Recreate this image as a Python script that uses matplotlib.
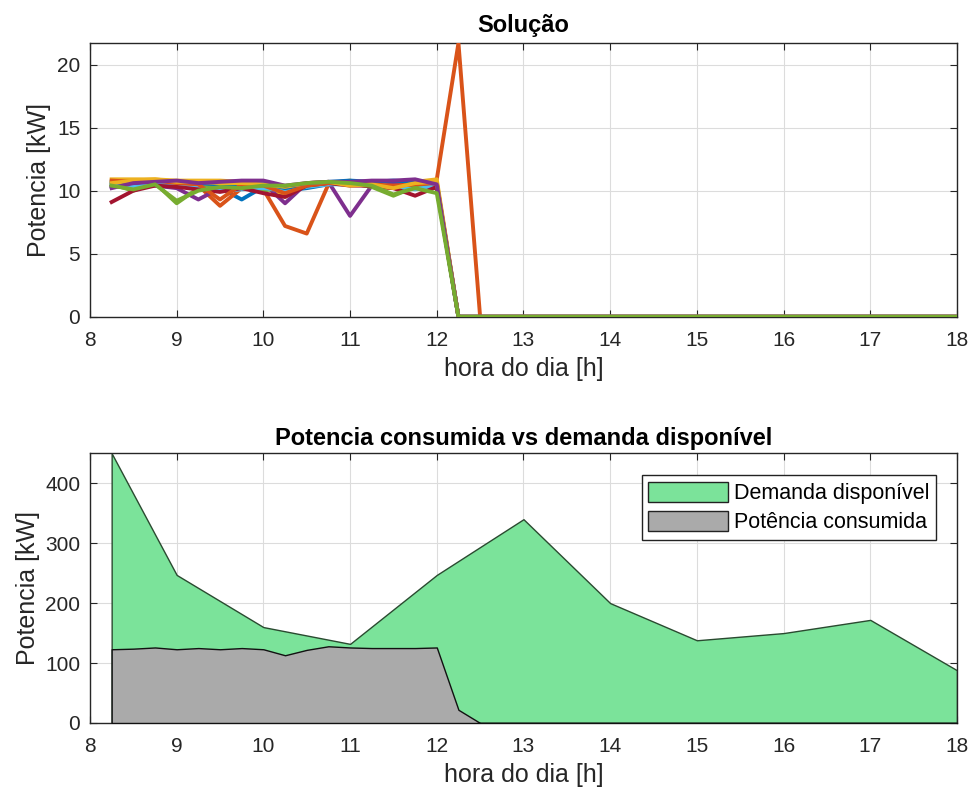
import matplotlib
matplotlib.use("Agg")
import matplotlib.pyplot as plt
from matplotlib.patches import Patch

plt.rcParams['font.family'] = ['Liberation Sans', 'DejaVu Sans']

# ---- data ----
hours = [8.25, 8.5, 8.75, 9.0, 9.25, 9.5, 9.75, 10.0, 10.25, 10.5, 10.75, 11.0,
         11.25, 11.5, 11.75, 12.0, 12.25, 12.5, 12.75, 13.0, 13.25, 13.5, 13.75, 14.0,
         14.25, 14.5, 14.75, 15.0, 15.25, 15.5, 15.75, 16.0, 16.25, 16.5, 16.75, 17.0,
         17.25, 17.5, 17.75, 18.0]

s01 = [10.4, 10.2, 10.6, 10.5, 10.3, 10.2, 9.3, 10.3, 10.0, 10.2, 10.5, 10.6, 10.4, 10.3, 10.5, 10.2,
       0, 0, 0, 0, 0, 0, 0, 0, 0, 0, 0, 0, 0, 0, 0, 0, 0, 0, 0, 0, 0, 0, 0, 0]
s02 = [10.5, 10.4, 10.8, 10.6, 10.4, 8.8, 10.2, 10.1, 7.2, 6.6, 10.5, 10.6, 10.3, 10.2, 10.4, 10.9,
       21.7, 0, 0, 0, 0, 0, 0, 0, 0, 0, 0, 0, 0, 0, 0, 0, 0, 0, 0, 0, 0, 0, 0, 0]
s03 = [10.9, 10.9, 10.9, 10.8, 10.8, 10.8, 10.7, 10.7, 9.5, 10.5, 10.6, 10.8, 10.4, 10.6, 10.7, 10.9,
       0, 0, 0, 0, 0, 0, 0, 0, 0, 0, 0, 0, 0, 0, 0, 0, 0, 0, 0, 0, 0, 0, 0, 0]
s04 = [10.3, 10.5, 10.4, 10.2, 9.3, 10.2, 10.5, 10.6, 9.0, 10.6, 10.7, 8.0, 10.4, 10.6, 10.7, 10.4,
       0, 0, 0, 0, 0, 0, 0, 0, 0, 0, 0, 0, 0, 0, 0, 0, 0, 0, 0, 0, 0, 0, 0, 0]
s05 = [10.5, 10.0, 10.6, 9.0, 10.2, 10.4, 10.3, 10.0, 10.3, 10.5, 10.6, 10.6, 10.3, 9.6, 10.3, 10.2,
       0, 0, 0, 0, 0, 0, 0, 0, 0, 0, 0, 0, 0, 0, 0, 0, 0, 0, 0, 0, 0, 0, 0, 0]
s06 = [10.6, 10.3, 10.5, 10.4, 10.2, 10.0, 10.1, 10.2, 10.0, 10.3, 10.5, 10.5, 10.6, 10.3, 10.1, 10.4,
       0, 0, 0, 0, 0, 0, 0, 0, 0, 0, 0, 0, 0, 0, 0, 0, 0, 0, 0, 0, 0, 0, 0, 0]
s07 = [9.1, 10.0, 10.4, 10.3, 10.1, 9.9, 10.2, 9.8, 9.5, 10.4, 10.6, 10.4, 10.4, 10.2, 9.6, 10.3,
       0, 0, 0, 0, 0, 0, 0, 0, 0, 0, 0, 0, 0, 0, 0, 0, 0, 0, 0, 0, 0, 0, 0, 0]
s08 = [10.7, 10.6, 10.8, 10.7, 10.6, 10.5, 10.4, 10.6, 10.2, 10.5, 10.7, 10.8, 10.7, 10.8, 10.7, 10.6,
       0, 0, 0, 0, 0, 0, 0, 0, 0, 0, 0, 0, 0, 0, 0, 0, 0, 0, 0, 0, 0, 0, 0, 0]
s09 = [10.8, 10.7, 10.8, 10.6, 10.5, 9.3, 10.5, 10.4, 9.8, 10.4, 10.6, 10.7, 10.5, 10.4, 10.5, 10.6,
       0, 0, 0, 0, 0, 0, 0, 0, 0, 0, 0, 0, 0, 0, 0, 0, 0, 0, 0, 0, 0, 0, 0, 0]
s10 = [10.6, 10.8, 10.9, 10.7, 10.7, 10.6, 10.6, 10.5, 10.3, 10.6, 10.7, 10.4, 10.5, 10.2, 10.6, 10.7,
       0, 0, 0, 0, 0, 0, 0, 0, 0, 0, 0, 0, 0, 0, 0, 0, 0, 0, 0, 0, 0, 0, 0, 0]
s11 = [10.2, 10.6, 10.7, 10.8, 10.6, 10.7, 10.8, 10.8, 10.4, 10.6, 10.7, 10.7, 10.8, 10.8, 10.9, 10.5,
       0, 0, 0, 0, 0, 0, 0, 0, 0, 0, 0, 0, 0, 0, 0, 0, 0, 0, 0, 0, 0, 0, 0, 0]
s12 = [10.4, 10.1, 10.5, 9.2, 10.0, 10.3, 10.2, 10.4, 10.4, 10.6, 10.7, 10.6, 10.4, 9.7, 10.2, 9.8,
       0, 0, 0, 0, 0, 0, 0, 0, 0, 0, 0, 0, 0, 0, 0, 0, 0, 0, 0, 0, 0, 0, 0, 0]
series = [s01, s02, s03, s04, s05, s06, s07, s08, s09, s10, s11, s12]

demand_hours = [8.25, 9, 10, 11, 12, 13, 14, 15, 16, 17, 18]
demand = [450, 247, 160, 132, 247, 340, 200, 138, 150, 172, 88]

consumed = [123, 124, 126, 123, 125, 123, 125, 123, 113, 122, 128, 126, 125, 125, 125, 126,
            22, 0, 0, 0, 0, 0, 0, 0, 0, 0, 0, 0, 0, 0, 0, 0, 0, 0, 0, 0, 0, 0, 0, 0]

xticks = [8, 9, 10, 11, 12, 13, 14, 15, 16, 17, 18]
yticks_top = [0, 5, 10, 15, 20]
yticks_bot = [0, 100, 200, 300, 400]

mcolors = ['#0072BD', '#D95319', '#EDB120', '#7E2F8E', '#77AC30', '#4DBEEE', '#A2142F']
axcol = '#262626'
TICK_FS = 15
LABEL_FS = 18
TITLE_FS = 17

fig = plt.figure(figsize=(9.78, 7.98), dpi=100)
ax1 = fig.add_axes([0.092, 0.603, 0.8865, 0.343])
ax2 = fig.add_axes([0.092, 0.094, 0.8865, 0.338])


def style(ax):
    ax.grid(True, color='#dcdcdc', linewidth=0.8)
    ax.set_axisbelow(True)
    ax.tick_params(direction='in', top=True, right=True, labelsize=TICK_FS,
                   colors=axcol, length=5, width=0.8)
    ax.tick_params(axis='x', pad=10)
    ax.tick_params(axis='y', pad=7)
    for sp in ax.spines.values():
        sp.set_color(axcol)
        sp.set_linewidth(1.0)
    ax.set_xticks(xticks)
    ax.set_xlim(8, 18)


for i, s in enumerate(series):
    ax1.plot(hours, s, color=mcolors[i % 7], linewidth=2.8, zorder=3)
style(ax1)
ax1.set_ylim(0, 21.7)
ax1.set_yticks(yticks_top)
ax1.set_title('Solução', fontsize=TITLE_FS, fontweight='bold', color='black', pad=8)
ax1.set_xlabel('hora do dia [h]', fontsize=LABEL_FS, color=axcol, labelpad=5)
ax1.set_ylabel('Potencia [kW]', fontsize=LABEL_FS, color=axcol, labelpad=4)

ax2.fill_between(demand_hours, demand, 0, facecolor='#7BE39A', edgecolor='#2a4a30',
                 linewidth=1.0, zorder=2)
ax2.fill_between(hours, consumed, 0, facecolor='#AAAAAA', edgecolor='#111111',
                 linewidth=1.0, zorder=3)
style(ax2)
ax2.set_ylim(0, 450)
ax2.set_yticks(yticks_bot)
ax2.set_title('Potencia consumida vs demanda disponível', fontsize=TITLE_FS,
              fontweight='bold', color='black', pad=6)
ax2.set_xlabel('hora do dia [h]', fontsize=LABEL_FS, color=axcol, labelpad=5)
ax2.set_ylabel('Potencia [kW]', fontsize=LABEL_FS, color=axcol, labelpad=4)

handles = [Patch(facecolor='#7BE39A', edgecolor='#222222', linewidth=1.0),
           Patch(facecolor='#AAAAAA', edgecolor='#222222', linewidth=1.0)]
leg = ax2.legend(handles, ['Demanda disponível', 'Potência consumida'],
                 loc='upper right', bbox_to_anchor=(0.976, 0.9185), fontsize=15.5,
                 fancybox=False, framealpha=1, edgecolor='#222222',
                 handlelength=3.7, handleheight=1.1, handletextpad=0.3,
                 borderpad=0.3, labelspacing=0.3, borderaxespad=0)
leg.get_frame().set_linewidth(1.0)

fig.savefig('out.png', dpi=100)
